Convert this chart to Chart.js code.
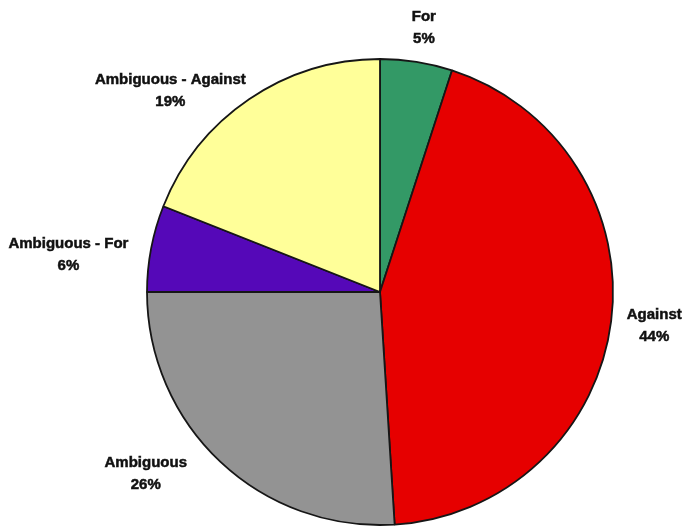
<!DOCTYPE html>
<html>
<head>
<meta charset="utf-8">
<script src="https://cdn.jsdelivr.net/npm/chart.js@4"></script>
<style>
  html, body { margin: 0; padding: 0; background: #ffffff; }
  #wrap { width: 684px; height: 529px; }
</style>
</head>
<body>
<div id="wrap"><canvas id="pie" width="684" height="529"></canvas></div>
<script>
// Slice categories, clockwise from 12 o'clock
const categories = ['For', 'Against', 'Ambiguous', 'Ambiguous - For', 'Ambiguous - Against'];
// Share of each category, in percent
const shares = [5, 44, 26, 6, 19];

const sliceColors = ['#339966', '#e60000', '#939393', '#5508b8', '#ffff99'];
// Fine adjustment of each callout label (px) after radial placement
const labelNudge = [[2, 0], [-2, -1], [-36, -29], [-6, 21], [-38, 51]];

const calloutPlugin = {
  id: 'callouts',
  afterDatasetsDraw(chart) {
    const ctx = chart.ctx;
    const meta = chart.getDatasetMeta(0);
    const lineGap = 22;
    const blockH = 34;
    const gap = 16;
    ctx.save();
    ctx.font = 'bold 15px "Liberation Sans", Arial, sans-serif';
    ctx.fillStyle = '#111111';
    ctx.strokeStyle = '#111111';
    ctx.lineWidth = 0.5;
    ctx.textAlign = 'center';
    ctx.textBaseline = 'middle';
    meta.data.forEach((arc, i) => {
      const p = arc.getProps(['x', 'y', 'startAngle', 'endAngle', 'outerRadius'], true);
      const mid = (p.startAngle + p.endAngle) / 2;
      const dx = Math.cos(mid), dy = Math.sin(mid);
      const lines = [categories[i], shares[i] + '%'];
      const w = Math.max(...lines.map(s => ctx.measureText(s).width));
      const support = (w / 2) * Math.abs(dx) + (blockH / 2) * Math.abs(dy);
      const t = p.outerRadius + gap + support;
      const cx = p.x + dx * t + labelNudge[i][0];
      const cy = p.y + dy * t + labelNudge[i][1];
      [cy - lineGap / 2, cy + lineGap / 2].forEach((ly, k) => {
        ctx.fillText(lines[k], cx, ly);
        ctx.strokeText(lines[k], cx, ly);
      });
    });
    ctx.restore();
  }
};

new Chart(document.getElementById('pie'), {
  type: 'pie',
  data: {
    labels: categories,
    datasets: [{
      data: shares,
      backgroundColor: sliceColors,
      borderColor: '#161616',
      borderWidth: 1.8,
      borderAlign: 'center'
    }]
  },
  options: {
    responsive: false,
    animation: false,
    layout: { padding: { left: 146.1, right: 70.1, top: 58.1, bottom: 3.1 } },
    plugins: {
      legend: { display: false },
      tooltip: { enabled: false }
    }
  },
  plugins: [calloutPlugin]
});
</script>
</body>
</html>
